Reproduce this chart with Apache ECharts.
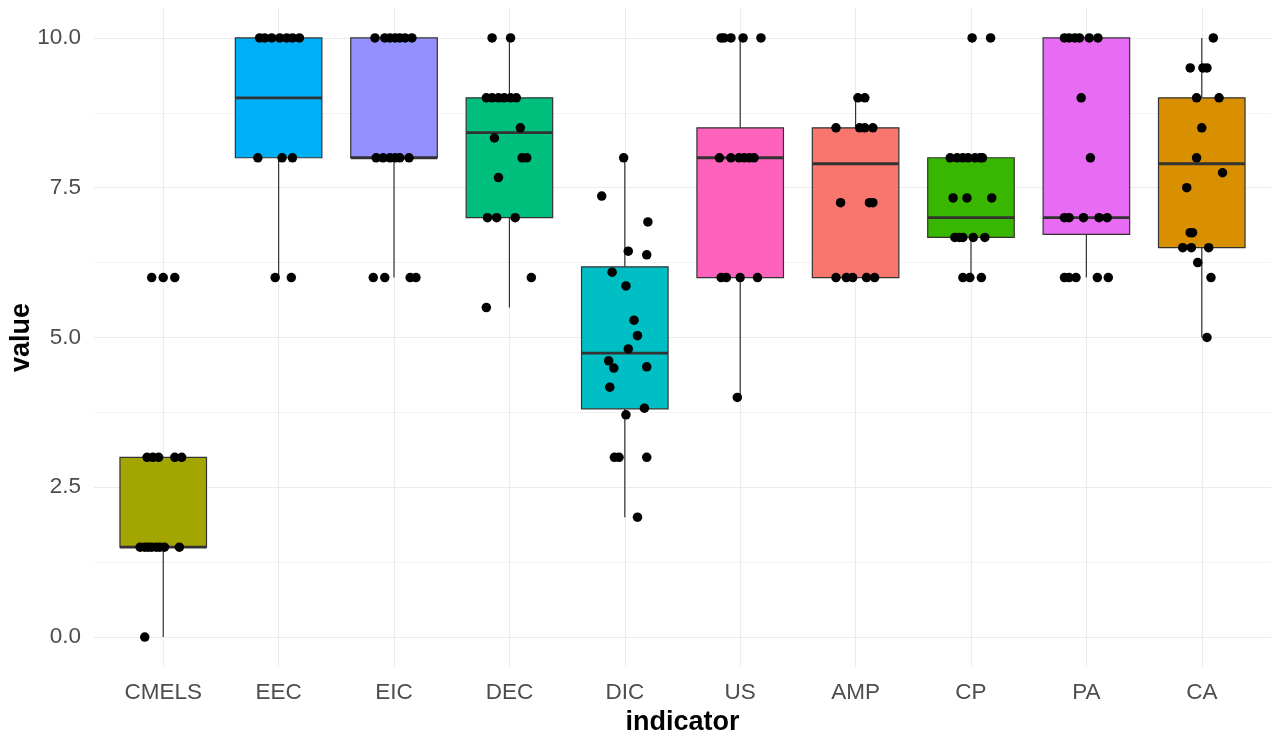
<!DOCTYPE html>
<html>
<head>
<meta charset="utf-8">
<script src="https://cdn.jsdelivr.net/npm/echarts@6/dist/echarts.min.js"></script>
<style>
html,body{margin:0;padding:0;background:#fff;}
#chart{width:1273px;height:737px;}
</style>
</head>
<body>
<div id="chart"></div>
<script>
// ---- data ----
const categories = ['CMELS','EEC','EIC','DEC','DIC','US','AMP','CP','PA','CA'];
const boxColors = ['#A3A500','#00B0F6','#9590FF','#00BF7D','#00BFC4','#FF62BC','#F8766D','#39B600','#E76BF3','#D89000'];

// box statistics: lower whisker, Q1, median, Q3, upper whisker
const whiskerLow  = [0,   6,  6,  5.5,  2,    4,   6,   6,    6,    5];
const q1          = [1.5, 8,  8,  7,    3.81, 6,   6,   6.67, 6.72, 6.5];
const medians     = [1.5, 9,  8,  8.42, 4.74, 8,   7.9, 7,    7,    7.9];
const q3          = [3,   10, 10, 9,    6.18, 8.5, 8.5, 8,    10,   9];
const whiskerHigh = [3,   10, 10, 10,   8,    10,  9,   8,    10,   10];

// individual observations (values) and their horizontal jitter (category units)
const valCMELS = [6,6,6, 3,3,3,3,3, 1.5,1.5,1.5,1.5,1.5,1.5,1.5,1.5, 0];
const jitCMELS = [-0.10,0,0.10, -0.14,-0.09,-0.04,0.10,0.16, -0.20,-0.16,-0.13,-0.10,-0.06,-0.03,0.01,0.14, -0.16];

const valEEC = [10,10,10,10,10,10,10, 8,8,8, 6,6];
const jitEEC = [-0.165,-0.12,-0.06,0.01,0.07,0.12,0.18, -0.18,0.03,0.12, -0.03,0.11];

const valEIC = [10,10,10,10,10,10,10, 8,8,8,8,8,8, 6,6,6,6];
const jitEIC = [-0.165,-0.08,-0.035,0.01,0.05,0.095,0.155, -0.155,-0.095,-0.035,0.01,0.05,0.13, -0.18,-0.08,0.14,0.19];

const valDEC = [10,10, 9,9,9,9,9,9, 8.5, 8.33, 8,8, 7.67, 7,7,7, 6, 5.5];
const jitDEC = [-0.15,0.01, -0.2,-0.15,-0.095,-0.045,0.01,0.06, 0.095, -0.13, 0.11,0.15, -0.095, -0.19,-0.11,0.05, 0.19, -0.2];

const valDIC = [8,7.36,6.93,6.44,6.38,6.09,5.86,5.29,5.03,4.81,4.61,4.49,4.51,4.17,3.82,3.71,3,3,3,2];
const jitDIC = [-0.01,-0.2,0.2,0.03,0.19,-0.11,0.01,0.08,0.11,0.03,-0.14,-0.095,0.19,-0.13,0.17,0.01,-0.09,-0.05,0.19,0.11];

const valUS = [10,10,10,10,10, 8,8,8,8,8,8, 6,6,6,6, 4];
const jitUS = [-0.165,-0.14,-0.08,0.025,0.18, -0.18,-0.08,-0.01,0.035,0.08,0.12, -0.165,-0.12,0,0.15, -0.025];

const valAMP = [9,9, 8.5,8.5,8.5,8.5, 7.25,7.25,7.25, 6,6,6,6,6];
const jitAMP = [0.02,0.08, -0.17,0.035,0.08,0.15, -0.13,0.12,0.15, -0.17,-0.08,-0.025,0.095,0.165];

const valCP = [10,10, 8,8,8,8,8,8,8, 7.33,7.33,7.33, 6.67,6.67,6.67,6.67,6.67, 6,6,6];
const jitCP = [0.01,0.17, -0.18,-0.12,-0.07,-0.025,0.035,0.08,0.10, -0.155,-0.035,0.18, -0.14,-0.10,-0.07,0.02,0.12, -0.07,-0.01,0.09];

const valPA = [10,10,10,10,10,10, 9, 8, 7,7,7,7,7, 6,6,6,6,6];
const jitPA = [-0.19,-0.15,-0.10,-0.06,0.025,0.10, -0.045, 0.035, -0.19,-0.15,-0.025,0.11,0.18, -0.19,-0.15,-0.09,0.095,0.19];

const valCA = [10, 9.5,9.5,9.5, 9,9, 8.5, 8, 7.75, 7.5, 6.75,6.75, 6.5,6.5,6.5, 6.25, 6, 5];
const jitCA = [0.10, -0.10,0.01,0.045, -0.045,0.15, 0, -0.045, 0.18, -0.13, -0.10,-0.08, -0.165,-0.09,0.06, -0.035, 0.08, 0.045];

const yMajorTicks = [0, 2.5, 5, 7.5, 10];
const yMinorTicks = [1.25, 3.75, 6.25, 8.75];

// ---- build series data ----
const pointValues = [valCMELS,valEEC,valEIC,valDEC,valDIC,valUS,valAMP,valCP,valPA,valCA];
const pointJitter = [jitCMELS,jitEEC,jitEIC,jitDEC,jitDIC,jitUS,jitAMP,jitCP,jitPA,jitCA];
const points = [];
pointValues.forEach((vals, i) => {
  vals.forEach((v, k) => points.push([i + pointJitter[i][k], v]));
});
const boxData = categories.map((c, i) => [i, whiskerLow[i], q1[i], medians[i], q3[i], whiskerHigh[i]]);
const catIdx = categories.map((c, i) => i);

const BOX_W = 0.75;
const LINE = '#333333';

const chart = echarts.init(document.getElementById('chart'), null, {renderer: 'canvas'});
chart.setOption({
  backgroundColor: '#ffffff',
  animation: false,
  grid: {left: 94, right: 2, top: 8, bottom: 70, containLabel: false, outerBoundsMode: 'none'},
  xAxis: [{
    type: 'value', min: -0.6, max: 9.6,
    name: 'indicator', nameLocation: 'middle', nameGap: 42, nameMoveOverlap: false,
    nameTextStyle: {fontFamily: 'Liberation Sans', fontSize: 27, fontWeight: 'bold', color: '#000'},
    axisLine: {show: false},
    axisTick: {show: false, customValues: catIdx},
    axisLabel: {customValues: catIdx, margin: 14, fontFamily: 'Liberation Sans', fontSize: 22.5, color: '#4D4D4D',
      formatter: v => categories[Math.round(v)]},
    splitLine: {show: true, lineStyle: {color: '#EBEBEB', width: 1.1}}
  }],
  yAxis: [{
    type: 'value', min: -0.5, max: 10.5,
    name: 'value', nameLocation: 'middle', nameGap: 59, nameMoveOverlap: false,
    nameTextStyle: {fontFamily: 'Liberation Sans', fontSize: 27, fontWeight: 'bold', color: '#000'},
    axisLine: {show: false},
    axisTick: {show: false, customValues: yMajorTicks},
    axisLabel: {customValues: yMajorTicks, margin: 13, fontFamily: 'Liberation Sans', fontSize: 22.5, color: '#4D4D4D',
      formatter: v => v.toFixed(1)},
    splitLine: {show: true, lineStyle: {color: '#EBEBEB', width: 1.1}}
  }, {
    type: 'value', min: -0.5, max: 10.5, position: 'left',
    axisLine: {show: false},
    axisTick: {show: false, customValues: yMinorTicks},
    axisLabel: {show: false, customValues: yMinorTicks},
    splitLine: {show: true, lineStyle: {color: '#F0F0F0', width: 0.8}}
  }],
  series: [{
    type: 'custom',
    xAxisIndex: 0, yAxisIndex: 0,
    data: boxData,
    encode: {x: 0, y: [1, 2, 3, 4, 5]},
    renderItem: function (params, api) {
      const i = api.value(0);
      const x = api.coord([i, api.value(3)])[0];
      const halfW = api.size([BOX_W, 0])[0] / 2;
      const yLo = api.coord([i, api.value(1)])[1];
      const yQ1 = api.coord([i, api.value(2)])[1];
      const yMed = api.coord([i, api.value(3)])[1];
      const yQ3 = api.coord([i, api.value(4)])[1];
      const yHi = api.coord([i, api.value(5)])[1];
      const thin = {stroke: LINE, lineWidth: 1.2};
      return {
        type: 'group',
        children: [
          {type: 'line', shape: {x1: x, y1: yHi, x2: x, y2: yQ3}, style: thin},
          {type: 'line', shape: {x1: x, y1: yQ1, x2: x, y2: yLo}, style: thin},
          {type: 'rect', shape: {x: x - halfW, y: yQ3, width: 2 * halfW, height: yQ1 - yQ3},
            style: {fill: boxColors[params.dataIndex], stroke: LINE, lineWidth: 1.2}},
          {type: 'line', shape: {x1: x - halfW, y1: yMed, x2: x + halfW, y2: yMed},
            style: {stroke: LINE, lineWidth: 2.8}}
        ]
      };
    },
    z: 2
  }, {
    type: 'scatter',
    xAxisIndex: 0, yAxisIndex: 0,
    data: points,
    symbol: 'circle',
    symbolSize: 9.5,
    itemStyle: {color: '#000000', opacity: 1},
    z: 3
  }]
});
</script>
</body>
</html>
